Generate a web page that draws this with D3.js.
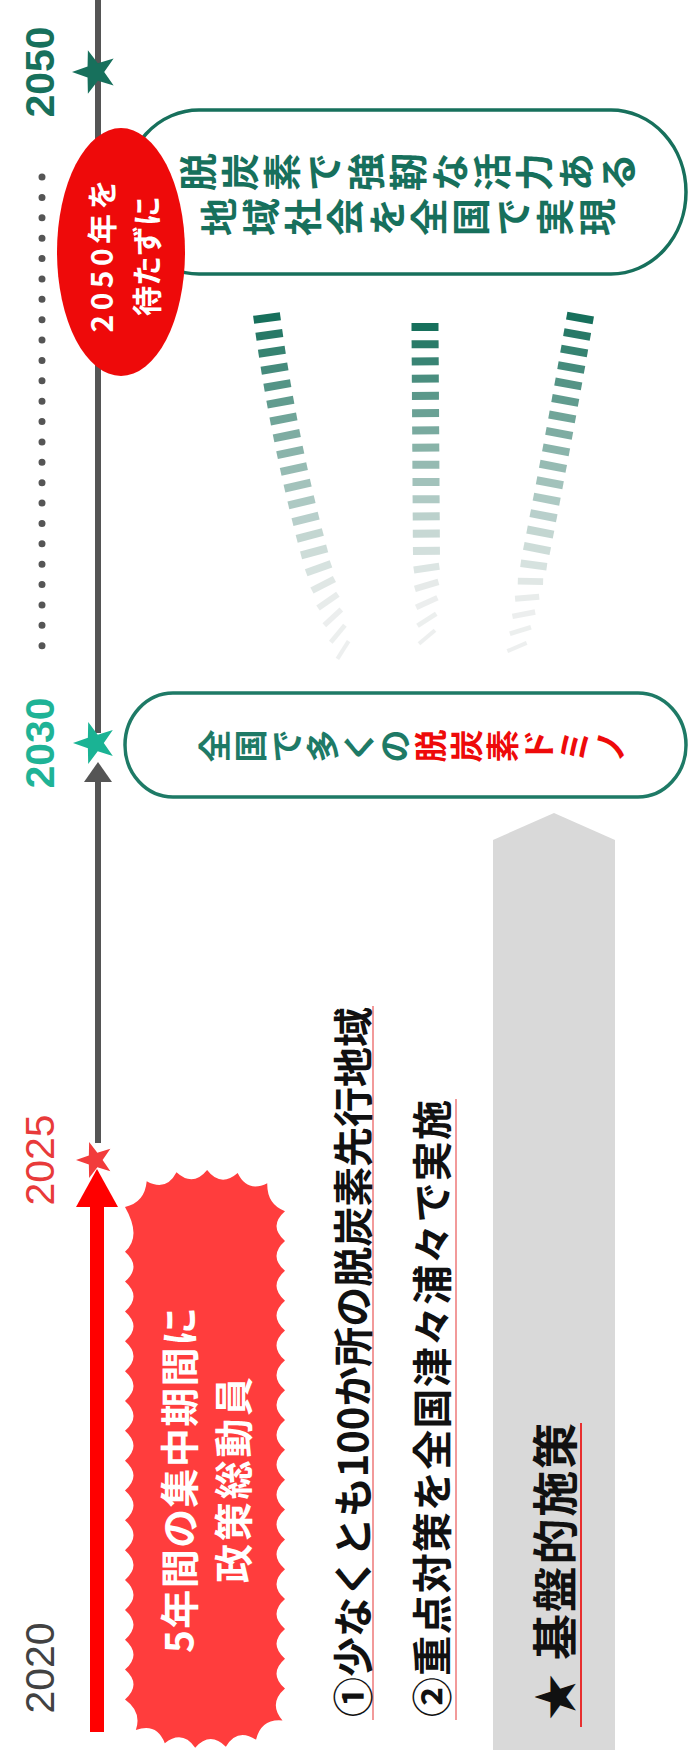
<!DOCTYPE html>
<html>
<head>
<meta charset="utf-8">
<script src="https://cdn.jsdelivr.net/npm/d3@7"></script>
<style>
html, body { margin: 0; padding: 0; background: #fff; }
svg { display: block; }
</style>
</head>
<body>
<script>
const W = 688, H = 1759;

// timeline data
const years = [2020, 2025, 2030, 2050];
const yearColors = ["#424242", "#e83a3a", "#1fb396", "#17705c"];
const yearBold = [false, false, true, true];
const starYears = [2025, 2030, 2050];
const starColors = ["#f23b3b", "#1ab394", "#17705c"];
const starSizes = [19, 22, 23];

// texts
const ellipseLines = ["2050年を", "待たずに"];
const goalLines = ["脱炭素で強靭な活力ある", "地域社会を全国で実現"];
const dominoParts = ["全国で多くの", "脱炭素ドミノ"];
const burstLines = ["5年間の集中期間に", "政策総動員"];
const measureLines = ["①少なくとも100か所の脱炭素先行地域", "②重点対策を全国津々浦々で実施"];
const baseLabel = "★ 基盤的施策";

const colors = {
    gray: "#555",
    teal: "#17705c",
    green: "#1e7a66",
    red: "#ee0a0a",
    burst: "#ff3d3d",
    band: "#d9d9d9",
};

const jpFont = "'Noto Sans CJK JP', 'Noto Sans', sans-serif";
const numFont = "'Liberation Sans', Arial, sans-serif";

const svg = d3.select("body").append("svg")
    .attr("width", W)
    .attr("height", H);

// year -> position along the (vertical) timeline
const yPos = d3.scaleLinear().domain(years).range([1668, 1160, 743, 72]);
const lineX = 98;

function rotText(g, str, x, y, size, color, weight, anchor) {
    return g.append("text")
        .attr("transform", `translate(${x},${y}) rotate(-90)`)
        .attr("text-anchor", anchor || "middle")
        .attr("dominant-baseline", "central")
        .style("font-family", jpFont)
        .style("font-size", size + "px")
        .style("font-weight", weight)
        .style("fill", color)
        .text(str);
}

// vertical-writing text turned on its side: each glyph rotated
function glyphRow(g, chars, cols, cx, cy, pitch, size) {
    const x0 = cx - pitch * chars.length / 2 + pitch / 2;
    g.selectAll(null)
        .data(chars)
        .enter().append("text")
        .attr("transform", (d, i) => `translate(${x0 + i * pitch},${cy}) rotate(-90)`)
        .attr("text-anchor", "middle")
        .attr("dominant-baseline", "central")
        .style("font-family", jpFont)
        .style("font-size", size + "px")
        .style("font-weight", 700)
        .style("fill", (d, i) => cols[i])
        .text(d => d);
}

function starPath(R) {
    const r = R * 0.4;
    const pts = d3.range(10).map(i => {
        const a = Math.PI + i * Math.PI / 5;
        const rad = i % 2 ? r : R;
        return [rad * Math.cos(a), rad * Math.sin(a)];
    });
    return "M" + pts.map(p => p.join(",")).join("L") + "Z";
}

// resample a dense polyline at a fixed step, returns points with unit tangents
function resample(dense, step, closed) {
    const cum = [0];
    const n = dense.length;
    const segs = closed ? n : n - 1;
    for (let i = 1; i <= segs; i++) {
        const a = dense[i - 1], b = dense[i % n];
        cum.push(cum[i - 1] + Math.hypot(b[0] - a[0], b[1] - a[1]));
    }
    const total = cum[cum.length - 1];
    const m = Math.round(total / step);
    const out = [];
    let j = 0;
    for (let k = 0; k < (closed ? m : m + 1); k++) {
        const s = total * k / m;
        while (j < segs - 1 && cum[j + 1] < s) j++;
        const a = dense[j], b = dense[(j + 1) % n];
        const t = (s - cum[j]) / (cum[j + 1] - cum[j] || 1);
        const dx = b[0] - a[0], dy = b[1] - a[1];
        const len = Math.hypot(dx, dy) || 1;
        out.push({ x: a[0] + dx * t, y: a[1] + dy * t, tx: dx / len, ty: dy / len, f: s / total });
    }
    return out;
}

// seal-like jagged shape around a rounded column
function burstPath(cx, cy, hw, hh, capH, spacing, out, inn) {
    const dense = [];
    const topY = cy - hh + capH, botY = cy + hh - capH;
    const n = 200;
    for (let i = 0; i < n; i++) { const a = Math.PI + Math.PI * i / n; dense.push([cx + hw * Math.cos(a), topY + capH * Math.sin(a)]); }
    for (let i = 0; i < n; i++) dense.push([cx + hw, topY + (botY - topY) * i / n]);
    for (let i = 0; i < n; i++) { const a = Math.PI * i / n; dense.push([cx + hw * Math.cos(a), botY + capH * Math.sin(a)]); }
    for (let i = 0; i < n; i++) dense.push([cx - hw, botY - (botY - topY) * i / n]);
    let pts = resample(dense, spacing / 2, true);
    if (pts.length % 2) pts = pts.slice(0, -1);
    const m = pts.length;
    const off = pts.map((p, k) => {
        const o = k % 2 ? -inn : out;
        return [p.x + p.ty * o, p.y - p.tx * o];
    });
    const p = d3.path();
    p.moveTo(off[0][0], off[0][1]);
    for (let k = 1; k < m; k += 2) {
        const c = off[k], e = off[(k + 1) % m];
        p.quadraticCurveTo(c[0], c[1], e[0], e[1]);
    }
    p.closePath();
    return p.toString();
}

// ---- grey base-policy band (arrow pointing toward 2030)
svg.append("path")
    .attr("d", "M493,1750 L493,840 L554,813 L615,840 L615,1750 Z")
    .style("fill", colors.band);

// ---- spreading dashed arrows between 2030 and 2050
const fans = [
    { p0: [267, 318], c: [289, 482], p1: [343, 650], tilt: -40 },
    { p0: [425, 327], c: [426, 482], p1: [427, 637], tilt: -40 },
    { p0: [580, 318], c: [551, 484], p1: [517, 647], tilt: -35 },
];
const dashColor = d3.interpolateRgb("#17705c", "#e2e6e5");
fans.forEach(fan => {
    const dense = d3.range(201).map(i => {
        const t = i / 200, u = 1 - t;
        return [u * u * fan.p0[0] + 2 * u * t * fan.c[0] + t * t * fan.p1[0],
                u * u * fan.p0[1] + 2 * u * t * fan.c[1] + t * t * fan.p1[1]];
    });
    const dashes = resample(dense, 17, false);
    svg.append("g").selectAll("line")
        .data(dashes)
        .enter().append("line")
        .each(function (d) {
            const late = Math.max(0, (d.f - 0.72) / 0.28);
            const ang = Math.atan2(d.ty, d.tx) + Math.PI / 2 + late * fan.tilt * Math.PI / 180;
            const half = 13.5 - late * 3;
            d3.select(this)
                .attr("x1", d.x - Math.cos(ang) * half).attr("y1", d.y - Math.sin(ang) * half)
                .attr("x2", d.x + Math.cos(ang) * half).attr("y2", d.y + Math.sin(ang) * half)
                .style("stroke-width", 8 - late * 4);
        })
        .style("stroke", d => dashColor(Math.min(1, d.f * 1.15)))
        .style("opacity", d => 1 - 0.4 * d.f);
});

// ---- 2050 goal box
svg.append("rect")
    .attr("x", 124).attr("y", 110)
    .attr("width", 562).attr("height", 164)
    .attr("rx", 75).attr("ry", 82)
    .style("fill", "#fff")
    .style("stroke", colors.teal)
    .style("stroke-width", 3.5);
goalLines.forEach((line, i) => {
    const chars = Array.from(line);
    glyphRow(svg, chars, chars.map(() => colors.teal), 405, 172 + i * 45, 42, 38);
});

// ---- dotted line
svg.append("line")
    .attr("x1", 42).attr("x2", 42)
    .attr("y1", 177).attr("y2", 646)
    .style("stroke", colors.gray)
    .style("stroke-width", 7)
    .style("stroke-linecap", "round")
    .style("stroke-dasharray", "0,20.38");

// ---- main grey timeline
svg.append("line")
    .attr("x1", lineX).attr("x2", lineX)
    .attr("y1", 0).attr("y2", yPos(2030) - 10)
    .style("stroke", colors.gray)
    .style("stroke-width", 6);
svg.append("line")
    .attr("x1", lineX).attr("x2", lineX)
    .attr("y1", yPos(2030) + 36).attr("y2", yPos(2025) - 17)
    .style("stroke", colors.gray)
    .style("stroke-width", 6);
svg.append("path")
    .attr("d", `M${lineX},${yPos(2030) + 19} L${lineX + 14},${yPos(2030) + 39} L${lineX - 14},${yPos(2030) + 39} Z`)
    .style("fill", colors.gray);

// ---- "2050年を待たずに" ellipse
svg.append("ellipse")
    .attr("cx", 121).attr("cy", 252)
    .attr("rx", 64).attr("ry", 124)
    .style("fill", colors.red);
ellipseLines.forEach((line, i) => {
    const t = rotText(svg, line, 100 + i * 45, 256, 30, "#fff", 700);
    if (i === 0) t.attr("textLength", 153).attr("lengthAdjust", "spacing");
});

// ---- 2030 box
svg.append("rect")
    .attr("x", 125).attr("y", 693)
    .attr("width", 561).attr("height", 104)
    .attr("rx", 48).attr("ry", 52)
    .style("fill", "#fff")
    .style("stroke", colors.green)
    .style("stroke-width", 3.5);
const dominoChars = [], dominoCols = [];
dominoParts.forEach((part, i) => {
    Array.from(part).forEach(c => {
        dominoChars.push(c);
        dominoCols.push(i === 0 ? colors.green : colors.red);
    });
});
glyphRow(svg, dominoChars, dominoCols, 411, 746, 36, 33);

// ---- red 2020-2025 arrow
svg.append("line")
    .attr("x1", lineX - 1).attr("x2", lineX - 1)
    .attr("y1", yPos(2025) + 44).attr("y2", yPos(2020) + 64)
    .style("stroke", "#ff0000")
    .style("stroke-width", 14);
svg.append("path")
    .attr("d", `M${lineX - 1},${yPos(2025) + 9} L${lineX + 20},${yPos(2025) + 47} L${lineX - 22},${yPos(2025) + 47} Z`)
    .style("fill", "#ff0000");

// ---- stars
svg.selectAll(".star")
    .data(starYears)
    .enter().append("path")
    .attr("class", "star")
    .attr("transform", d => `translate(${lineX - 3},${yPos(d)})`)
    .attr("d", (d, i) => starPath(starSizes[i]))
    .style("fill", (d, i) => starColors[i]);

// ---- year labels
years.forEach((yr, i) => {
    svg.append("text")
        .attr("transform", `translate(40,${yPos(yr)}) rotate(-90)`)
        .attr("text-anchor", "middle")
        .attr("dominant-baseline", "central")
        .style("font-family", numFont)
        .style("font-size", "41px")
        .style("font-weight", yearBold[i] ? 700 : 400)
        .style("fill", yearColors[i])
        .text(yr);
});

// ---- 5-year intensive period burst
svg.append("path")
    .attr("d", burstPath(205, 1459, 75, 284, 32, 30, 5, 12))
    .style("fill", colors.burst);
burstLines.forEach((line, i) => {
    rotText(svg, line, 177 + i * 54, 1480, 39, "#fff", 700)
        .attr("textLength", i === 0 ? 346 : 206)
        .attr("lengthAdjust", "spacing");
});

// ---- measures
const measureX = [351, 430];
const measureLen = [710, 617];
const measureLine = [373, 456];
measureLines.forEach((line, i) => {
    svg.append("line")
        .attr("x1", measureLine[i]).attr("x2", measureLine[i])
        .attr("y1", 1718 - measureLen[i] - 2).attr("y2", 1720)
        .style("stroke", "#f29a9a")
        .style("stroke-width", 2);
    rotText(svg, line, measureX[i], 1717, 40, "#111", 700, "start")
        .attr("textLength", measureLen[i])
        .attr("lengthAdjust", "spacing");
});

svg.append("line")
    .attr("x1", 581).attr("x2", 581)
    .attr("y1", 1423).attr("y2", 1727)
    .style("stroke", "#e83030")
    .style("stroke-width", 2);
rotText(svg, baseLabel, 552, 1720, 46, "#111", 700, "start")
    .attr("textLength", 297)
    .attr("lengthAdjust", "spacing");
</script>
</body>
</html>
